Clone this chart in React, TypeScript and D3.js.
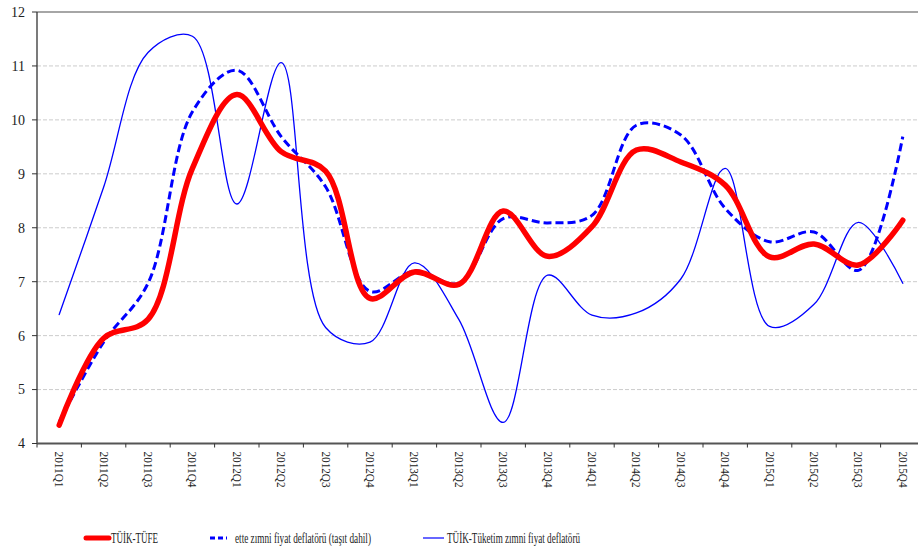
import React from "react";
import * as d3 from "d3";

const quarters = [
  "2011Q1", "2011Q2", "2011Q3", "2011Q4",
  "2012Q1", "2012Q2", "2012Q3", "2012Q4",
  "2013Q1", "2013Q2", "2013Q3", "2013Q4",
  "2014Q1", "2014Q2", "2014Q3", "2014Q4",
  "2015Q1", "2015Q2", "2015Q3", "2015Q4",
];

// TÜİK-TÜFE
const tufe = [
  4.34, 5.95, 6.3, 9.1, 10.47, 9.41, 9.05, 6.69, 7.18, 6.95,
  8.31, 7.47, 8.02, 9.44, 9.22, 8.79, 7.46, 7.7, 7.31, 8.14,
];

// ette zımni fiyat deflatörü (taşıt dahil)
const etteDeflator = [
  4.4, 5.88, 6.97, 10.15, 10.92, 9.69, 8.76, 6.82, 7.2, 6.97,
  8.17, 8.09, 8.23, 9.9, 9.72, 8.36, 7.74, 7.92, 7.21, 9.69,
];

// TÜİK-Tüketim zımni fiyat deflatörü
const tuketimDeflator = [
  6.39, 8.75, 11.25, 11.55, 8.44, 11.06, 6.15, 5.88, 7.35, 6.3,
  4.39, 7.12, 6.38, 6.42, 7.05, 9.1, 6.17, 6.58, 8.1, 6.97,
];

const yTicks = [4, 5, 6, 7, 8, 9, 10, 11, 12];

const legendItems = [
  { label: "TÜİK-TÜFE", color: "#ff0000", width: 5, dash: "none" },
  { label: "ette zımni fiyat deflatörü (taşıt dahil)", color: "#0000ff", width: 3, dash: "5,3" },
  { label: "TÜİK-Tüketim zımni fiyat deflatörü", color: "#0000ff", width: 1.2, dash: "none" },
];

const W = 918;
const H = 549;
const left = 37;
const plotRight = 925;
const top = 12;
const bottom = 443.5;
const serif = { fontFamily: "'Liberation Serif', 'Times New Roman', serif" };

export default function App() {
  const x = d3.scaleBand<string>().domain(quarters).range([left, plotRight]);
  const y = d3.scaleLinear().domain([4, 12]).range([bottom, top]);
  const cx = (q: string) => (x(q) ?? 0) + x.bandwidth() / 2;

  const line = d3
    .line<number>()
    .x((_, i) => cx(quarters[i]))
    .y((d) => y(d))
    .curve(d3.curveCatmullRom.alpha(0.5));

  const series = [
    { values: tuketimDeflator, color: "#0000ff", width: 1.3, dash: "none" },
    { values: etteDeflator, color: "#0000ff", width: 3, dash: "8,4" },
    { values: tufe, color: "#ff0000", width: 5.5, dash: "none" },
  ];

  return (
    <svg
      width={W}
      height={H}
      style={{ position: "absolute", left: 0, top: 0, background: "#fff" }}
    >
      {/* grid lines */}
      {yTicks.slice(1, -1).map((t) => (
        <line
          key={t}
          x1={left}
          x2={W}
          y1={y(t)}
          y2={y(t)}
          stroke="#cccccc"
          strokeDasharray="4,2"
        />
      ))}
      {/* top border */}
      <line x1={left} x2={W} y1={top} y2={top} stroke="#888" strokeWidth={1.3} />

      {/* series */}
      {series.map((s, i) => (
        <path
          key={i}
          d={line(s.values) ?? ""}
          fill="none"
          stroke={s.color}
          strokeWidth={s.width}
          strokeDasharray={s.dash}
          strokeLinejoin="round"
          strokeLinecap={s.dash === "none" ? "round" : "butt"}
        />
      ))}

      {/* y axis */}
      <line x1={left} x2={left} y1={top} y2={bottom} stroke="#333" strokeWidth={1.3} />
      {yTicks.map((t) => (
        <g key={t}>
          <line x1={left - 5} x2={left} y1={y(t)} y2={y(t)} stroke="#333" />
          <text
            x={left - 12}
            y={y(t)}
            dy="0.35em"
            textAnchor="end"
            fontSize={14}
            fill="#222"
            style={serif}
          >
            {t}
          </text>
        </g>
      ))}

      {/* x axis */}
      <line x1={left} x2={W} y1={bottom} y2={bottom} stroke="#555" strokeWidth={2} />
      {quarters.map((q) => (
        <g key={q}>
          <line
            x1={x(q) ?? 0}
            x2={x(q) ?? 0}
            y1={bottom}
            y2={bottom + 4}
            stroke="#333"
          />
          <text
            transform={`translate(${cx(q) - 4},${bottom + 8}) rotate(90)`}
            fontSize={11.5}
            fill="#222"
            style={serif}
            textLength={36}
            lengthAdjust="spacingAndGlyphs"
          >
            {q}
          </text>
        </g>
      ))}

      {/* legend */}
      {legendItems.map((d, i) => {
        const lx = [86, 210, 423][i];
        const lw = [23, 17, 21][i];
        const tx = [111, 235, 447][i];
        const tl = [47, 136, 133][i];
        return (
          <g key={d.label}>
            <line
              x1={lx}
              x2={lx + lw}
              y1={538}
              y2={538}
              stroke={d.color}
              strokeWidth={d.width}
              strokeDasharray={d.dash}
              strokeLinecap={i === 0 ? "round" : "butt"}
            />
            <text
              x={tx}
              y={543}
              fontSize={14.5}
              fill="#222"
              style={serif}
              textLength={tl}
              lengthAdjust="spacingAndGlyphs"
            >
              {d.label}
            </text>
          </g>
        );
      })}
    </svg>
  );
}
